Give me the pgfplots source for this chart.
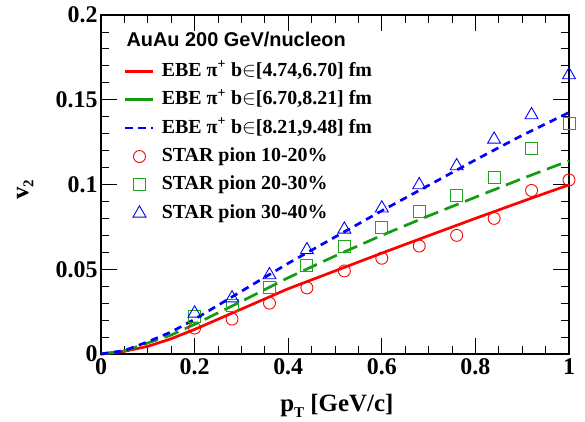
\documentclass[border=0pt]{standalone}
\usepackage{fontspec}
\setmainfont{Liberation Serif}
\newfontfamily\helv{Liberation Sans}
\usepackage{pgfplots}
\pgfplotsset{compat=1.18}
\definecolor{rred}{RGB}{255,0,0}
\definecolor{rgreen}{RGB}{20,155,20}
\definecolor{mgreen}{RGB}{30,165,30}
\definecolor{rblue}{RGB}{0,0,255}
\begin{document}
\begin{tikzpicture}
\begin{axis}[
  scale only axis, width=468bp, height=339bp,
  xmin=0, xmax=1, ymin=0, ymax=0.2,
  xtick={0,0.2,0.4,0.6,0.8,1}, xticklabels={0,0.2,0.4,0.6,0.8,1},
  ytick={0,0.05,0.1,0.15,0.2}, yticklabels={0,0.05,0.1,0.15,0.2},
  minor x tick num=3, minor y tick num=4,
  tick align=inside, major tick length=16bp, minor tick length=8bp,
  tick style={black, line width=0.8bp},
  axis line style={line width=1.2bp},
  xtick pos=both, ytick pos=both,
  tick label style={font=\fontsize{24}{24}\selectfont\bfseries},
  xticklabel style={yshift=-1bp},
  xlabel={\textbf{p\raisebox{-0.45ex}{\fontsize{15}{15}\selectfont T} [GeV/c]}},
  xlabel style={font=\fontsize{25}{25}\selectfont, at={(axis description cs:0.504,-0.171)}, anchor=base},
  ylabel={\textbf{v\raisebox{-0.45ex}{\fontsize{15}{15}\selectfont 2}}},
  ylabel style={font=\fontsize{25}{25}\selectfont, at={(axis description cs:-0.162,0.484)}, anchor=center, rotate=0},
  legend image code/.code={\draw[mark repeat=2,mark phase=2] plot coordinates {(0bp,0bp)(14bp,0bp)(28bp,0bp)};},
  legend style={at={(axis description cs:0.049,0.861)}, anchor=north west, draw=none, fill=none,
    inner sep=0pt, row sep=10.4bp, column sep=7bp,
    font=\fontsize{20}{20}\selectfont\bfseries,
    nodes={inner sep=0pt, text height=14bp, text depth=4bp, anchor=west}},
  legend cell align=left,
  clip=false,
]
\addplot[rred, line width=2.7bp] coordinates {
 (0,0) (0.05,0.0016) (0.1,0.0045) (0.15,0.0090) (0.2,0.0145) (0.3,0.0265) (0.4,0.0385)
 (0.5,0.0490) (0.6,0.0595) (0.7,0.0698) (0.8,0.0800) (0.9,0.0900) (1.0,0.0998)};
\addlegendentry{EBE π\textsuperscript{+} b$\in$[4.74,6.70] fm}
\addplot[rgreen, line width=2.7bp, dash pattern=on 15bp off 7bp, legend image post style={solid}] coordinates {
 (0,0) (0.05,0.0018) (0.1,0.0065) (0.15,0.0112) (0.2,0.0175) (0.3,0.0310) (0.4,0.0450)
 (0.5,0.0578) (0.6,0.0700) (0.7,0.0815) (0.8,0.0925) (0.9,0.1035) (1.0,0.1140)};
\addlegendentry{EBE π\textsuperscript{+} b$\in$[6.70,8.21] fm}
\addplot[rblue, line width=2.7bp, dash pattern=on 7.5bp off 5.5bp] coordinates {
 (0,0) (0.05,0.0020) (0.1,0.0072) (0.15,0.0130) (0.2,0.0205) (0.3,0.0370) (0.4,0.0535)
 (0.5,0.0690) (0.6,0.0845) (0.7,0.0995) (0.8,0.1145) (0.9,0.1290) (1.0,0.1425)};
\addlegendentry{EBE π\textsuperscript{+} b$\in$[8.21,9.48] fm}
\addplot[only marks, color=rred, mark=o, mark size=6bp, mark options={draw=rred, line width=0.9bp}] coordinates {
 (0.2,0.0153) (0.28,0.0206) (0.36,0.0300) (0.44,0.0390) (0.52,0.0490) (0.6,0.0565)
 (0.68,0.0637) (0.76,0.0700) (0.84,0.0800) (0.92,0.0965) (1.0,0.1027)};
\addlegendentry{STAR pion 10-20\%}
\addplot[only marks, color=mgreen, mark=square, mark size=6bp, mark options={draw=mgreen, line width=0.9bp}] coordinates {
 (0.2,0.0220) (0.28,0.0289) (0.36,0.0390) (0.44,0.0525) (0.52,0.0637) (0.6,0.0747)
 (0.68,0.0840) (0.76,0.0934) (0.84,0.1042) (0.92,0.1213) (1.0,0.1360)};
\addlegendentry{STAR pion 20-30\%}
\addplot[only marks, color=rblue, mark=triangle, mark size=7.5bp, mark options={draw=rblue, line width=0.9bp}] coordinates {
 (0.2,0.0240) (0.28,0.0330) (0.36,0.0466) (0.44,0.0614) (0.52,0.0735) (0.6,0.0860)
 (0.68,0.0997) (0.76,0.1109) (0.84,0.1266) (0.92,0.1410) (1.0,0.1646)};
\addlegendentry{STAR pion 30-40\%}
\node[anchor=base west, font=\helv\fontsize{20}{20}\selectfont\bfseries] at (axis description cs:0.047,0.906) {AuAu 200 GeV/nucleon};
\end{axis}
\pgfresetboundingbox
\path (current axis.south west) ++(-101bp,-68bp) rectangle ++(585bp,422bp);
\end{tikzpicture}
\end{document}
